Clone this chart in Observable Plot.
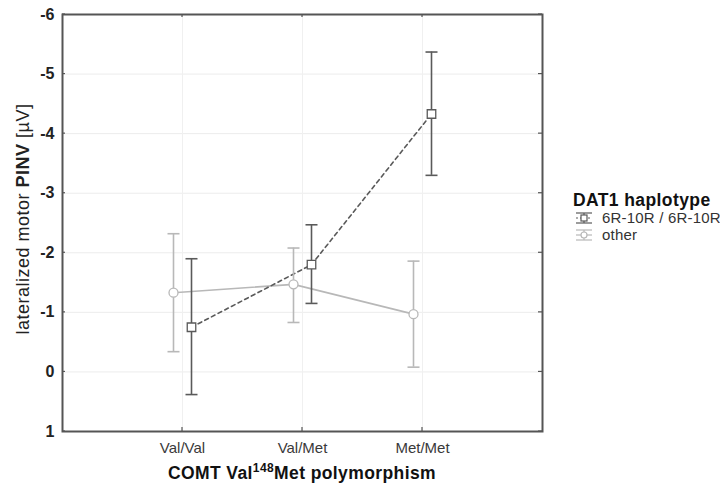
<!DOCTYPE html>
<html>
<head>
<meta charset="utf-8">
<script src="https://cdn.jsdelivr.net/npm/d3@7"></script>
<script src="https://cdn.jsdelivr.net/npm/@observablehq/plot@0.6"></script>
<style>
  html, body { margin: 0; padding: 0; background: #fff; }
  #chart { width: 720px; height: 488px; }
</style>
</head>
<body>
<div id="chart"></div>
<script>
// ---- data ----
const categories = ["Val/Val", "Val/Met", "Met/Met"];
const groups = ["6R-10R / 6R-10R", "other"];
const mean6R = [-0.75, -1.80, -4.33];
const low6R  = [0.38, -1.15, -3.30];
const high6R = [-1.90, -2.47, -5.37];
const meanOther = [-1.33, -1.47, -0.97];
const lowOther  = [-0.34, -0.83, -0.08];
const highOther = [-2.32, -2.08, -1.86];
const yTicks = [1, 0, -1, -2, -3, -4, -5, -6];

(function () {
const colors = {"6R-10R / 6R-10R": "#5a5a5a", "other": "#b8b8b8"};
const offsets = {"6R-10R / 6R-10R": 0.075, "other": -0.075};

const rows = [];
categories.forEach((c, i) => {
  rows.push({group: groups[0], cat: c, pos: i + 1, mean: mean6R[i], lo: low6R[i], hi: high6R[i]});
  rows.push({group: groups[1], cat: c, pos: i + 1, mean: meanOther[i], lo: lowOther[i], hi: highOther[i]});
});
rows.forEach(r => { r.x = r.pos + offsets[r.group]; });
const r6 = rows.filter(r => r.group === groups[0]);
const rO = rows.filter(r => r.group === groups[1]);
const capW = 0.05;

const font = "'Liberation Sans', Arial, sans-serif";

const plot = Plot.plot({
  width: 720,
  height: 488,
  marginLeft: 62,
  marginRight: 178,
  marginTop: 14,
  marginBottom: 57,
  style: {fontFamily: font, background: "#fff"},
  x: {domain: [0, 4], axis: null},
  y: {domain: [1, -6], axis: null},
  marks: [
    Plot.gridY(yTicks, {stroke: "#ececec", strokeOpacity: 1, strokeWidth: 1}),
    Plot.gridX([1, 2, 3], {stroke: "#f0f0f0", strokeOpacity: 1, strokeWidth: 1}),
    Plot.axisY(yTicks, {tickSize: 0, tickPadding: 8, fontSize: 16, fontWeight: "bold", fill: "#222",
      label: null, tickFormat: d => String(d)}),
    Plot.axisX([1, 2, 3], {tickSize: 0, tickPadding: 11, fontSize: 15, fill: "#3a3a3a", label: null,
      tickFormat: d => categories[d - 1]}),
    Plot.line(rO, {x: "x", y: "mean", stroke: colors.other, strokeWidth: 1.6}),
    Plot.line(r6, {x: "x", y: "mean", stroke: colors[groups[0]], strokeWidth: 1.6, strokeDasharray: "4,3.5"}),
    Plot.ruleX(rows, {x: "x", y1: "lo", y2: "hi", stroke: d => colors[d.group], strokeWidth: 1.6}),
    Plot.link(rows, {x1: d => d.x - capW, x2: d => d.x + capW, y1: "lo", y2: "lo", stroke: d => colors[d.group], strokeWidth: 1.6}),
    Plot.link(rows, {x1: d => d.x - capW, x2: d => d.x + capW, y1: "hi", y2: "hi", stroke: d => colors[d.group], strokeWidth: 1.6}),
    Plot.dot(rO, {x: "x", y: "mean", r: 4.5, symbol: "circle", fill: "white", stroke: colors.other, strokeWidth: 1.3}),
    Plot.dot(r6, {x: "x", y: "mean", r: 4.8, symbol: "square", fill: "white", stroke: colors[groups[0]], strokeWidth: 1.3}),
    Plot.frame({stroke: "#555", strokeWidth: 2})
  ]
});

document.getElementById("chart").appendChild(plot);

const svg = d3.select(plot);
const xs = plot.scale("x"), ys = plot.scale("y");
const pLeft = xs.apply(0), pRight = xs.apply(4), pTop = ys.apply(-6), pBottom = ys.apply(1);

const tg = svg.append("g").attr("stroke", "#555").attr("stroke-width", 1.2);
yTicks.forEach(t => {
  const y = ys.apply(t);
  tg.append("line").attr("x1", pRight - 4).attr("x2", pRight).attr("y1", y).attr("y2", y);
  tg.append("line").attr("x1", pLeft).attr("x2", pLeft + 3).attr("y1", y).attr("y2", y);
});
[1, 2, 3].forEach(t => {
  const x = xs.apply(t);
  tg.append("line").attr("x1", x).attr("x2", x).attr("y1", pBottom).attr("y2", pBottom - 4);
  tg.append("line").attr("x1", x).attr("x2", x).attr("y1", pTop).attr("y2", pTop + 3);
});

const yl = svg.append("text")
  .attr("transform", `translate(29,${219}) rotate(-90)`)
  .attr("text-anchor", "middle")
  .attr("font-family", font).attr("font-size", 18).attr("letter-spacing", 0.5).attr("fill", "#222");
yl.append("tspan").text("lateralized motor ");
yl.append("tspan").attr("font-weight", "bold").text("PINV");
yl.append("tspan").text(" [µV]");

const xl = svg.append("text")
  .attr("x", (pLeft + pRight) / 2).attr("y", 479)
  .attr("text-anchor", "middle")
  .attr("font-family", font).attr("font-size", 17.5).attr("letter-spacing", 0.4).attr("font-weight", "bold").attr("fill", "#111");
xl.append("tspan").text("COMT Val");
xl.append("tspan").attr("font-size", 12).attr("dy", -7).text("148");
xl.append("tspan").attr("dy", 7).text("Met polymorphism");

const lg = svg.append("g").attr("font-family", font).attr("text-anchor", "start");
lg.append("text").attr("x", 573).attr("y", 206).attr("font-size", 17.5).attr("letter-spacing", 0.4).attr("font-weight", "bold").attr("fill", "#111").text("DAT1 haplotype");
const items = [
  {g: groups[0], y: 218, dash: "3,2", sym: "square"},
  {g: groups[1], y: 235, dash: null, sym: "circle"}
];
items.forEach(it => {
  const c = colors[it.g];
  const gx = 584;
  const s = lg.append("g").attr("stroke", c).attr("stroke-width", 1.2).attr("fill", "none");
  s.append("line").attr("x1", gx - 8).attr("x2", gx + 8).attr("y1", it.y - 5).attr("y2", it.y - 5);
  s.append("line").attr("x1", gx - 8).attr("x2", gx + 8).attr("y1", it.y + 5).attr("y2", it.y + 5);
  s.append("line").attr("x1", gx).attr("x2", gx).attr("y1", it.y - 5).attr("y2", it.y + 5);
  const ml = s.append("line").attr("x1", gx - 8).attr("x2", gx + 8).attr("y1", it.y).attr("y2", it.y);
  if (it.dash) ml.attr("stroke-dasharray", "2,2");
  if (it.sym === "square") s.append("rect").attr("x", gx - 3).attr("y", it.y - 3).attr("width", 6).attr("height", 6).attr("fill", "white");
  else s.append("circle").attr("cx", gx).attr("cy", it.y).attr("r", 3).attr("fill", "white");
  lg.append("text").attr("x", 602).attr("y", it.y + 5).attr("font-size", 15).attr("letter-spacing", 0.2).attr("fill", "#333").text(it.g);
});
})();
</script>
</body>
</html>
